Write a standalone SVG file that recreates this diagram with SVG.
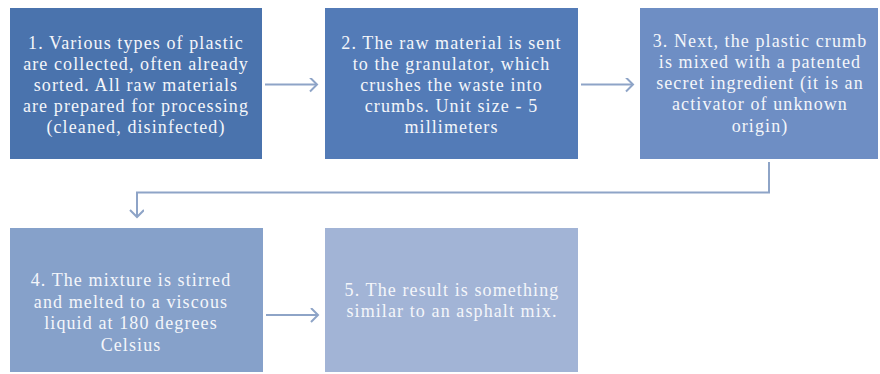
<svg xmlns="http://www.w3.org/2000/svg" width="880" height="374" viewBox="0 0 880 374">
<defs>
<style>
.box{stroke:none}
.t{font-family:"Liberation Serif","Times New Roman",serif;font-size:18px;fill:#f4f6fa;text-anchor:middle;letter-spacing:1.1px}
.c{fill:none;stroke:#8ea4c7;stroke-width:2}
</style>
<marker id="ah" markerUnits="userSpaceOnUse" markerWidth="12" markerHeight="18" refX="8" refY="7" orient="auto">
<path d="M1,0 L8,7 L1,14" fill="none" stroke="#8ea4c7" stroke-width="2"/>
</marker>
</defs>
<rect width="880" height="374" fill="#ffffff"/>
<g id="connectors">
<path class="c" d="M265,84.5 H317" marker-end="url(#ah)"/>
<path class="c" d="M581,84.5 H633" marker-end="url(#ah)"/>
<path class="c" d="M769,162 V192.5 H137 V217" marker-end="url(#ah)"/>
<path class="c" d="M266,315 H318" marker-end="url(#ah)"/>
</g>
<g id="node1">
<rect class="box" x="10" y="8" width="252" height="151" fill="#4a73ad"/>
<text class="t" x="136" y="48.5">1. Various types of plastic</text>
<text class="t" x="136" y="69.5">are collected, often already</text>
<text class="t" x="136" y="90.5">sorted. All  raw materials</text>
<text class="t" x="136" y="111.5">are prepared for processing</text>
<text class="t" x="136" y="132.5">(cleaned, disinfected)</text>
</g>
<g id="node2">
<rect class="box" x="325" y="8" width="253" height="151" fill="#537bb7"/>
<text class="t" x="451.5" y="48.5">2. The raw material is sent</text>
<text class="t" x="451.5" y="69.5">to the granulator, which</text>
<text class="t" x="451.5" y="90.5">crushes the waste into</text>
<text class="t" x="451.5" y="111.5">crumbs. Unit size  - 5</text>
<text class="t" x="451.5" y="132.5">millimeters</text>
</g>
<g id="node3">
<rect class="box" x="640" y="8" width="238" height="151" fill="#6e8ec4"/>
<text class="t" x="760" y="46.5">3. Next, the plastic crumb</text>
<text class="t" x="760" y="67.5">is mixed with  a patented</text>
<text class="t" x="760" y="89">secret ingredient (it  is  an</text>
<text class="t" x="760" y="110">activator of unknown</text>
<text class="t" x="760" y="131.5">origin)</text>
</g>
<g id="node4">
<rect class="box" x="10" y="228" width="253" height="144" fill="#86a1ca"/>
<text class="t" x="131" y="286">4. The mixture is  stirred</text>
<text class="t" x="131" y="307.5">and melted to a viscous</text>
<text class="t" x="131" y="329">liquid at 180 degrees</text>
<text class="t" x="131" y="350.5">Celsius</text>
</g>
<g id="node5">
<rect class="box" x="325" y="228" width="253" height="144" fill="#a2b4d6"/>
<text class="t" x="452" y="295.5">5. The result is  something</text>
<text class="t" x="452" y="317">similar to an asphalt mix.</text>
</g>
</svg>
